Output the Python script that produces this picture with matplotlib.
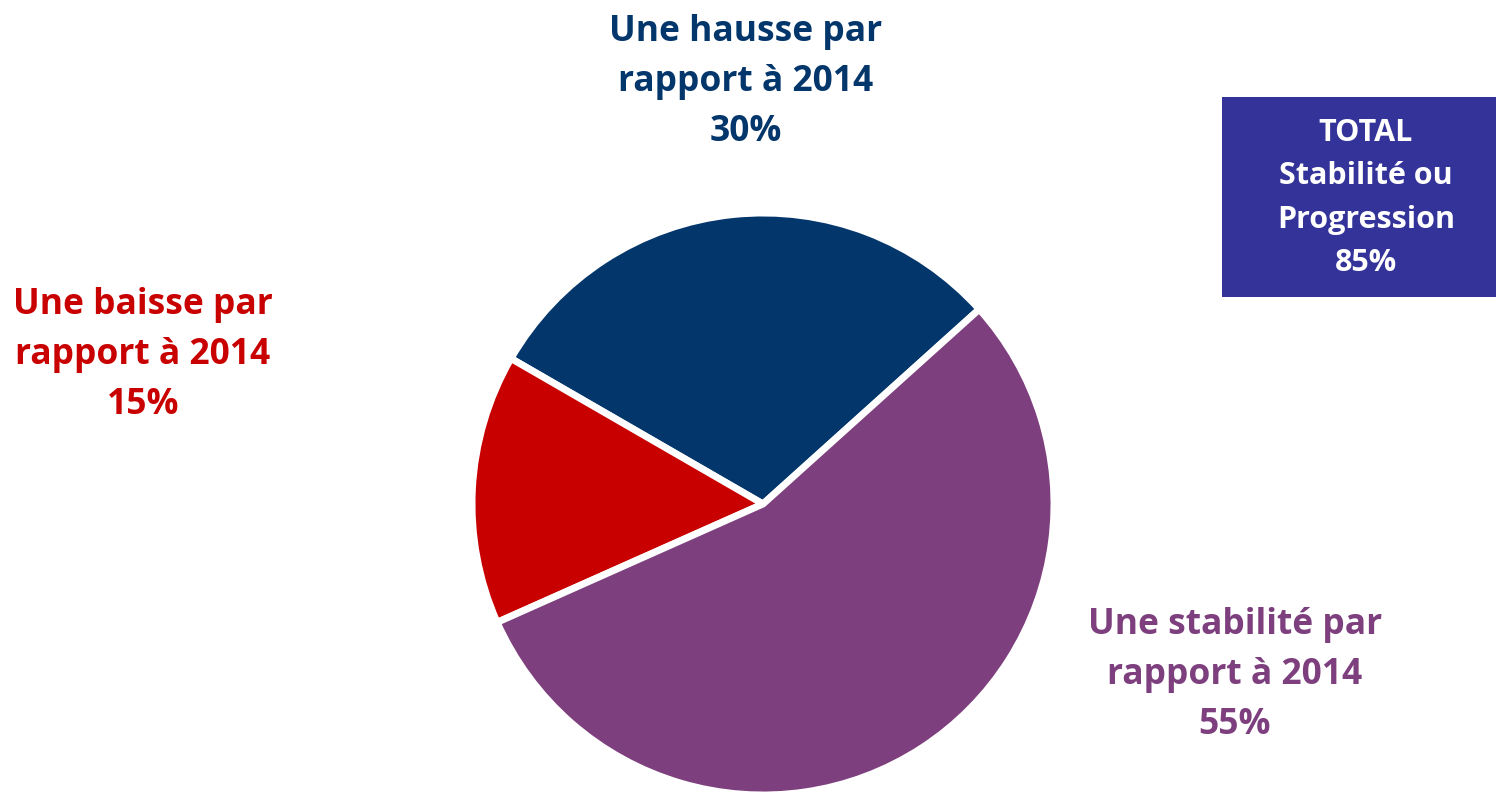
import matplotlib
matplotlib.use('Agg')
import matplotlib.pyplot as plt

# ── Data ──────────────────────────────────────────────────────────────────────
labels = ['Une hausse par\nrapport à 2014', 'Une baisse par\nrapport à 2014',
          'Une stabilité par\nrapport à 2014']
values = [30, 15, 55]
colors = ['#03366B', '#C80000', '#7D3F7D']
total_label = 'TOTAL\nStabilité ou\nProgression'
total_value = 85

plt.rcParams['font.family'] = ['Open Sans', 'DejaVu Sans']

W, H = 1496, 793
fig = plt.figure(figsize=(W / 100, H / 100), dpi=100)
ax = fig.add_axes([0, 0, 1, 1])

ax.pie(values, colors=colors, startangle=42, counterclock=True,
       center=(763, H - 504), radius=291,
       wedgeprops=dict(edgecolor='white', linewidth=5))

# pie() resets the limits, so set them afterwards
ax.set_xlim(0, W)
ax.set_ylim(0, H)
ax.set_aspect('equal')
ax.axis('off')

# ── Labels ────────────────────────────────────────────────────────────────────
label_pos = [(746, H - 82), (143, H - 355), (1235, H - 675)]
for lab, val, col, (x, y) in zip(labels, values, colors, label_pos):
    ax.text(x, y, f'{lab}\n{val}%', ha='center', va='center', color=col,
            fontsize=25.5, fontweight='bold', linespacing=1.52)

# ── Total box ─────────────────────────────────────────────────────────────────
ax.add_patch(plt.Rectangle((1222, H - 297), 274, 200, facecolor='#333399',
                           edgecolor='none'))
ax.text(1366, H - 198, f'{total_label}\n{total_value}%', ha='center', va='center',
        color='white', fontsize=22, fontweight='bold', linespacing=1.58)

fig.savefig('out.png', dpi=100)
